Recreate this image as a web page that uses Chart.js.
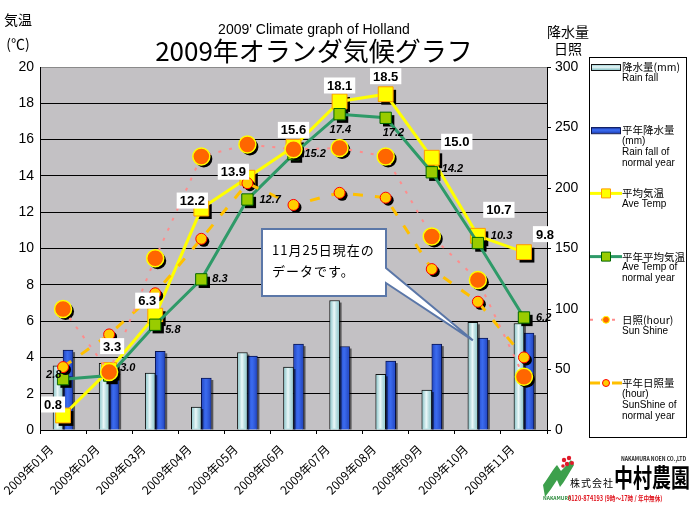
<!DOCTYPE html>
<html>
<head>
<meta charset="utf-8">
<script src="https://cdn.jsdelivr.net/npm/chart.js@4"></script>
<style>
html, body { margin: 0; padding: 0; background: #fff; }
#wrap { position: relative; width: 700px; height: 514px; overflow: hidden; }
#logo { position: absolute; left: 541px; top: 453px; width: 152px; height: 54px; font-family: "Noto Sans CJK JP", sans-serif; white-space: nowrap; }
#logo .en { position: absolute; left: 80px; top: 3px; font-size: 6px; line-height: 6px; font-weight: bold; color: #222; transform: scale(0.85, 1); transform-origin: left top; }
#logo .kk { position: absolute; left: 29px; top: 24px; font-size: 10px; line-height: 12px; letter-spacing: 1px; color: #000; }
#logo .nm { position: absolute; left: 73px; top: 9px; font-size: 19px; line-height: 22px; font-weight: bold; color: #000; transform: scale(1, 1.3); transform-origin: left top; }
#logo .nk { position: absolute; left: 2px; top: 42px; font-size: 5px; line-height: 6px; color: #2a8a3a; font-weight: bold; }
#logo .tel { position: absolute; left: 27px; top: 41px; font-size: 7px; line-height: 8px; color: #e0101a; font-weight: bold; transform: scale(0.8, 1); transform-origin: left top; }
</style>
</head>
<body>
<div id="wrap">
<canvas id="myChart" width="700" height="514"></canvas>
<div id="logo">
  <svg width="34" height="44" style="position:absolute;left:0;top:2px">
    <path d="M2 30 C8 22 12 14 16 10 L20 16 C24 12 27 8 30 5 L33 10 C28 18 24 26 19 32 L16 25 C12 31 8 37 4 42 Z" fill="#3da04c"/>
    <circle cx="23" cy="5" r="2.2" fill="#e01a2a"/>
    <circle cx="28" cy="3" r="2.2" fill="#e01a2a"/>
    <circle cx="26" cy="9" r="2.2" fill="#e01a2a"/>
    <circle cx="31" cy="8" r="2" fill="#e01a2a"/>
    <circle cx="22" cy="11" r="1.8" fill="#e01a2a"/>
  </svg>
  <div class="en">NAKAMURA NOEN CO.,LTD</div>
  <div class="kk">株式会社</div>
  <div class="nm">中村農園</div>
  <div class="nk">NAKAMURA</div>
  <div class="tel">0120-874193 (9時〜17時 / 年中無休)</div>
</div>
</div>
<script>
// chart data
const months = ['2009年01月', '2009年02月', '2009年03月', '2009年04月', '2009年05月', '2009年06月',
                '2009年07月', '2009年08月', '2009年09月', '2009年10月', '2009年11月'];
const rainFall       = [53, 55, 47, 19, 64, 52, 107, 46, 33, 89, 88];
const rainFallNormal = [66, 52, 65, 43, 61, 71, 69, 57, 71, 76, 80];
const aveTemp        = [0.8, 3.3, 6.3, 12.2, 13.9, 15.6, 18.1, 18.5, 15.0, 10.7, 9.8];
const aveTempNormal  = [2.8, 3.0, 5.8, 8.3, 12.7, 15.2, 17.4, 17.2, 14.2, 10.3, 6.2];
const sunShine       = [100, 48, 142, 226, 236, 232, 233, 226, 160, 124, 44];
const sunShineNormal = [52, 79, 113, 158, 204, 186, 196, 192, 133, 106, 60];
const tempTicks = [0, 20, 2];
const rainTicks = [0, 300, 50];

const JP = '"Noto Sans CJK JP", sans-serif';
const SANS = '"Liberation Sans", Arial, sans-serif';

// plot background
const bgPlugin = {
    id: 'bg',
    beforeDraw(chart) {
        const a = chart.chartArea, ctx = chart.ctx;
        ctx.save();
        ctx.fillStyle = '#c3c1c4';
        ctx.fillRect(a.left, a.top, a.right - a.left, a.bottom - a.top);
        ctx.restore();
    }
};

// black drop shadow under the markers
const shadowPlugin = {
    id: 'shadow',
    beforeDatasetDraw(chart, args) {
        const ds = chart.data.datasets[args.index];
        if (ds.type !== 'line') return;
        const ctx = chart.ctx;
        ctx.save();
        ctx.fillStyle = '#000';
        args.meta.data.forEach(el => {
            const r = ds.pointRadius;
            ctx.beginPath();
            if (ds.pointStyle === 'rect') {
                const s = r * Math.SQRT1_2;
                ctx.rect(el.x - s + 3, el.y - s + 3, 2 * s, 2 * s);
            } else {
                ctx.arc(el.x + 2.5, el.y + 2.5, r, 0, Math.PI * 2);
            }
            ctx.fill();
        });
        ctx.restore();
    }
};

// shiny look for the bars
const glossPlugin = {
    id: 'gloss',
    afterDatasetDraw(chart, args) {
        const ds = chart.data.datasets[args.index];
        if (ds.type !== 'bar') return;
        const ctx = chart.ctx;
        ctx.save();
        args.meta.data.forEach(el => {
            const p = el.getProps(['x', 'y', 'base', 'width'], true);
            const l = p.x - p.width / 2;
            const g = ctx.createLinearGradient(l, 0, l + p.width, 0);
            g.addColorStop(0, ds.glossEdge);
            g.addColorStop(0.45, ds.glossMid);
            g.addColorStop(1, ds.glossEdge);
            ctx.fillStyle = g;
            ctx.fillRect(l + 1, p.y + 1, p.width - 2, p.base - p.y - 2);
            ctx.fillStyle = 'rgba(0,0,0,0.55)';
            ctx.fillRect(l + p.width, p.y + 2, 2, p.base - p.y - 2);
        });
        ctx.restore();
    }
};

// value labels
const labelPlugin = {
    id: 'valueLabels',
    afterDatasetsDraw(chart) {
        const ctx = chart.ctx;
        const aveOff = [[-10, -11], [3, -24], [-8, -15], [-9, -8], [-14, -6], [0, -17], [0, -16], [0, -18], [25, -16], [21, -26], [21, -18]];
        const normOff = [[-17, -4], [11, -8], [10, 5], [11, 0], [12, 0], [11, 0], [-10, 16], [-3, 15], [10, -3], [13, -7], [12, 0]];
        ctx.save();
        chart.data.datasets.forEach((ds, i) => {
            if (!ds.valueLabel) return;
            const meta = chart.getDatasetMeta(i);
            meta.data.forEach((el, k) => {
                const txt = ds.data[k].toFixed(1);
                if (ds.valueLabel === 'box') {
                    ctx.font = 'bold 13px ' + SANS;
                    const w = ctx.measureText(txt).width + 6;
                    const cx = el.x + aveOff[k][0], cy = el.y + aveOff[k][1];
                    ctx.fillStyle = '#fff';
                    ctx.fillRect(cx - w / 2, cy - 8, w, 16);
                    ctx.fillStyle = '#000';
                    ctx.textAlign = 'center';
                    ctx.textBaseline = 'middle';
                    ctx.fillText(txt, cx, cy + 1);
                } else {
                    ctx.font = 'italic bold 11px ' + SANS;
                    ctx.fillStyle = '#000';
                    ctx.textAlign = 'left';
                    ctx.textBaseline = 'middle';
                    ctx.fillText(txt, el.x + normOff[k][0], el.y + normOff[k][1]);
                }
            });
        });
        ctx.restore();
    }
};

// titles, axis captions, rotated month labels, callout and legend
const decorPlugin = {
    id: 'decor',
    afterDraw(chart) {
        const ctx = chart.ctx;
        ctx.save();
        ctx.fillStyle = '#000';
        ctx.textAlign = 'center';
        ctx.textBaseline = 'middle';
        ctx.font = '14px ' + SANS;
        ctx.fillText("2009' Climate graph of Holland", 314, 30);
        ctx.font = '26px ' + JP;
        ctx.fillText('2009年オランダ気候グラフ', 314, 51);

        ctx.font = '14px ' + JP;
        ctx.fillText('気温', 18, 20);
        ctx.fillText('(℃)', 18, 44);
        ctx.fillText('降水量', 568, 32);
        ctx.fillText('日照', 568, 49);

        // month labels
        const xs = chart.scales.x;
        ctx.font = '12px ' + JP;
        ctx.textAlign = 'right';
        months.forEach((m, i) => {
            const x = xs.getPixelForValue(i);
            ctx.save();
            ctx.translate(x - 12, 447);
            ctx.rotate(-Math.PI / 4);
            ctx.fillText(m, 0, 0);
            ctx.restore();
        });

        // callout
        const tipX = xs.getPixelForValue(9) - 5;
        const tipY = chart.scales.y1.getPixelForValue(rainFall[9]) + 18;
        const bx = 262, by = 229, bw = 124, bh = 67;
        ctx.fillStyle = '#fff';
        ctx.strokeStyle = '#5b77a8';
        ctx.lineWidth = 2;
        ctx.beginPath();
        ctx.moveTo(bx, by);
        ctx.lineTo(bx + bw, by);
        ctx.lineTo(bx + bw, by + 39);
        ctx.lineTo(tipX, tipY);
        ctx.lineTo(bx + bw, by + 54);
        ctx.lineTo(bx + bw, by + bh);
        ctx.lineTo(bx, by + bh);
        ctx.closePath();
        ctx.fill();
        ctx.stroke();
        ctx.fillStyle = '#000';
        ctx.textAlign = 'left';
        ctx.font = '13px ' + JP;
        ctx.letterSpacing = '1px';
        ctx.fillText('11月25日現在の', bx + 10, by + 21);
        ctx.fillText('データです。', bx + 10, by + 42);
        ctx.letterSpacing = '0px';

        // legend
        ctx.strokeStyle = '#000';
        ctx.lineWidth = 1;
        ctx.strokeRect(589.5, 57.5, 97, 380);
        chart.data.datasets.forEach((ds, i) => {
            const y0 = 67 + i * 63.2;
            ctx.save();
            if (ds.type === 'bar') {
                const g = ctx.createLinearGradient(0, y0 - 3, 0, y0 + 3);
                g.addColorStop(0, ds.glossEdge);
                g.addColorStop(0.5, ds.glossMid);
                g.addColorStop(1, ds.glossEdge);
                ctx.fillStyle = ds.backgroundColor;
                ctx.fillRect(591, y0 - 3, 29, 6);
                ctx.fillStyle = g;
                ctx.fillRect(591, y0 - 3, 29, 6);
                ctx.strokeStyle = ds.borderColor;
                ctx.strokeRect(591.5, y0 - 2.5, 29, 6);
            } else {
                ctx.strokeStyle = ds.borderColor;
                ctx.lineWidth = ds.borderWidth;
                ctx.setLineDash(ds.borderDash || []);
                ctx.beginPath();
                ctx.moveTo(590, y0);
                ctx.lineTo(622, y0);
                ctx.stroke();
                ctx.setLineDash([]);
                ctx.fillStyle = ds.pointBackgroundColor;
                ctx.strokeStyle = ds.pointBorderColor;
                ctx.lineWidth = 1;
                ctx.beginPath();
                if (ds.pointStyle === 'rect') ctx.rect(601.5, y0 - 4.5, 9, 9);
                else ctx.arc(606, y0, 3.5, 0, Math.PI * 2);
                ctx.fill();
                ctx.stroke();
            }
            ctx.restore();
            ctx.fillStyle = '#000';
            ctx.textAlign = 'left';
            ctx.textBaseline = 'middle';
            ds.label.split('\n').forEach((t, k) => {
                ctx.font = (/[\u3000-\u9fff]/.test(t) ? '10.5px ' + JP : '10px ' + SANS);
                ctx.fillText(t, 622, y0 + k * 11);
            });
        });
        ctx.restore();
    }
};

new Chart(document.getElementById('myChart'), {
    data: {
        labels: months,
        datasets: [
            {
                type: 'bar',
                label: '降水量(mm)\nRain fall',
                data: rainFall,
                yAxisID: 'y1',
                backgroundColor: '#b4e4e8',
                borderColor: '#111',
                borderWidth: 1,
                barThickness: 10,
                glossEdge: 'rgba(110,175,180,0.55)',
                glossMid: 'rgba(255,255,255,0.75)',
                order: 6
            },
            {
                type: 'bar',
                label: '平年降水量\n(mm)\nRain fall of\nnormal year',
                data: rainFallNormal,
                yAxisID: 'y1',
                backgroundColor: '#2f5ee6',
                borderColor: '#0a1450',
                borderWidth: 1,
                barThickness: 10,
                glossEdge: 'rgba(15,35,140,0.55)',
                glossMid: 'rgba(80,130,255,0.35)',
                order: 6
            },
            {
                type: 'line',
                label: '平均気温\nAve Temp',
                data: aveTemp,
                yAxisID: 'y',
                borderColor: '#ffff00',
                borderWidth: 3,
                pointStyle: 'rect',
                pointRadius: 10.5,
                pointBackgroundColor: '#ffff00',
                pointBorderColor: '#ff9900',
                pointBorderWidth: 1,
                valueLabel: 'box',
                order: 4
            },
            {
                type: 'line',
                label: '平年平均気温\nAve Temp of\nnormal year',
                data: aveTempNormal,
                yAxisID: 'y',
                borderColor: '#2e9a68',
                borderWidth: 3,
                pointStyle: 'rect',
                pointRadius: 8,
                pointBackgroundColor: '#99cc00',
                pointBorderColor: '#006600',
                pointBorderWidth: 1,
                valueLabel: 'italic',
                order: 3
            },
            {
                type: 'line',
                label: '日照(hour)\nSun Shine',
                data: sunShine,
                yAxisID: 'y1',
                borderColor: '#ff8c8c',
                borderWidth: 2,
                borderDash: [3, 8],
                pointStyle: 'circle',
                pointRadius: 8.5,
                pointBackgroundColor: '#ff6600',
                pointBorderColor: '#ffff00',
                pointBorderWidth: 1.5,
                order: 1
            },
            {
                type: 'line',
                label: '平年日照量\n(hour)\nSunShine of\nnormal year',
                data: sunShineNormal,
                yAxisID: 'y1',
                borderColor: '#ffc000',
                borderWidth: 3,
                borderDash: [10, 12],
                pointStyle: 'circle',
                pointRadius: 5.5,
                pointBackgroundColor: '#ffcc00',
                pointBorderColor: '#ff0000',
                pointBorderWidth: 1,
                order: 2
            }
        ]
    },
    options: {
        responsive: false,
        animation: false,
        layout: { padding: { left: 0, right: 113, top: 67, bottom: 0 } },
        plugins: {
            legend: { display: false },
            tooltip: { enabled: false }
        },
        datasets: {
            bar: { categoryPercentage: 0.56, barPercentage: 1 },
            line: { tension: 0 }
        },
        scales: {
            x: {
                offset: true,
                grid: { display: true, drawOnChartArea: false, color: '#000', tickLength: 4, offset: true },
                border: { color: '#000', width: 1 },
                ticks: { display: false },
                afterFit: s => { s.height = 84; }
            },
            y: {
                position: 'left',
                min: tempTicks[0],
                max: tempTicks[1],
                ticks: { stepSize: tempTicks[2], color: '#000', font: { size: 14, family: SANS }, padding: 6 },
                grid: { color: c => c.tick.value === tempTicks[1] ? '#8a8a8a' : '#000', lineWidth: 1, drawTicks: false },
                border: { color: '#000', width: 1 },
                afterFit: s => { s.width = 40; }
            },
            y1: {
                position: 'right',
                min: rainTicks[0],
                max: rainTicks[1],
                ticks: { stepSize: rainTicks[2], color: '#000', font: { size: 14, family: SANS }, padding: 4 },
                grid: { drawOnChartArea: false, color: '#000', tickLength: 4 },
                border: { color: '#000', width: 1 },
                afterFit: s => { s.width = 40; }
            }
        }
    },
    plugins: [bgPlugin, shadowPlugin, glossPlugin, labelPlugin, decorPlugin]
});
</script>
</body>
</html>
